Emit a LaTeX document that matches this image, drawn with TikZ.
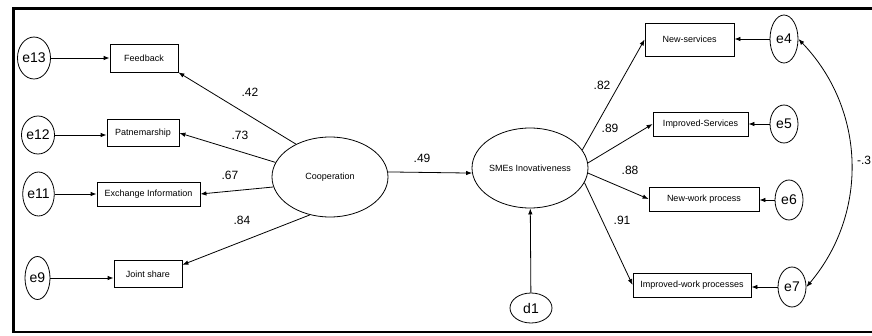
\documentclass[tikz,border=0pt]{standalone}
\usepackage{fontspec}
\setmainfont{Liberation Sans}
\usetikzlibrary{shapes.geometric}
\usetikzlibrary{arrows.meta}

\begin{document}
\begin{tikzpicture}[x=1pt,y=-1pt,line width=0.8pt,>={Latex[length=6pt,width=4.5pt]},
   obs/.style={draw,rectangle,inner sep=0pt,font=\fontsize{9}{10}\selectfont},
   lat/.style={draw,ellipse,inner sep=0pt,minimum width=116pt,minimum height=80pt,font=\fontsize{9}{10}\selectfont},
   err/.style={draw,ellipse,inner sep=0pt,font=\fontsize{14}{14}\selectfont},
   lbl/.style={inner sep=0pt,font=\fontsize{12}{12}\selectfont}]
   \useasboundingbox (0,0) rectangle (872,335);
   \draw[line width=2.2pt] (880,8.5) -- (13.5,8.5) -- (13.5,332) -- (880,332);
   % latent variables
   \node[lat] (coop) at (330,177) {Cooperation};
   \node[lat] (smes) at (530,168) {SMEs Inovativeness};
   \node[err,minimum width=42pt,minimum height=30pt] (d1) at (531,308) {d1};
   % indicators of cooperation
   \node[obs,minimum width=68pt,minimum height=28pt] (fb) at (144,58) {Feedback};
   \node[obs,minimum width=72pt,minimum height=27pt] (pm) at (143,133) {Patnemarship};
   \node[obs,minimum width=103pt,minimum height=24pt] (ex) at (148.5,194) {Exchange Information};
   \node[obs,minimum width=68pt,minimum height=27pt] (js) at (148,274) {Joint share};
   \node[err,minimum width=32pt,minimum height=42pt] (e13) at (34,58) {e13};
   \node[err,minimum width=24pt,minimum height=38pt] (e12) at (38,135) {e12};
   \node[err,minimum width=27pt,minimum height=44pt] (e11) at (38.5,194) {e11};
   \node[err,minimum width=25pt,minimum height=43pt] (e9) at (37.5,278) {e9};
   % indicators of innovativeness
   \node[obs,minimum width=89pt,minimum height=33pt] (ns) at (689.5,39.5) {New-services};
   \node[obs,minimum width=95pt,minimum height=24pt] (is) at (700.5,124) {Improved-Services};
   \node[obs,minimum width=110pt,minimum height=24pt] (nw) at (704,199) {New-work process};
   \node[obs,minimum width=118pt,minimum height=24pt] (iw) at (692,285) {Improved-work processes};
   \node[err,minimum width=28pt,minimum height=48pt] (e4) at (784,39) {e4};
   \node[err,minimum width=28pt,minimum height=38pt] (e5) at (784,124) {e5};
   \node[err,minimum width=28pt,minimum height=40pt] (e6) at (789,200) {e6};
   \node[err,minimum width=28pt,minimum height=40pt] (e7) at (792,287) {e7};
   % loadings
   \node[lbl] (l42) at (250,92) {.42};
   \node[lbl] (l73) at (240,135) {.73};
   \node[lbl] (l67) at (230,175) {.67};
   \node[lbl] (l84) at (242,220) {.84};
   \node[lbl] (l49) at (422,158) {.49};
   \node[lbl] (l82) at (602,85) {.82};
   \node[lbl] (l89) at (610,128) {.89};
   \node[lbl] (l88) at (630,170) {.88};
   \node[lbl] (l91) at (622,220) {.91};
   \node[lbl,anchor=east] (l3) at (871.5,160) {-.3};
   % paths
   \draw[->] (coop.136) -- (fb.south east);
   \draw[->] (coop.165) -- (pm.east);
   \draw[->] (coop.190) -- (ex.east);
   \draw[->] (coop.242) -- (js.15);
   \draw[->] (coop.5) -- (smes.185);
   \draw[->] (d1) -- (smes);
   \draw[->] (smes.19) -- (ns.west);
   \draw[->] (smes.5) -- (is.west);
   \draw[->] (smes.-5) -- (nw.west);
   \draw[->] (smes.-15) -- (iw.west);
   \draw[->] (e13) -- (e13 -| fb.west);
   \draw[->] (e12) -- (e12 -| pm.west);
   \draw[->] (e11) -- (e11 -| ex.west);
   \draw[->] (e9) -- (e9 -| js.west);
   \draw[->] (e4) -- (e4 -| ns.east);
   \draw[->] (e5) -- (e5 -| is.east);
   \draw[->] (e6) -- (e6 -| nw.east);
   \draw[->] (e7) -- (e7 -| iw.east);
   \draw[<->] (e4.east) to[bend left=42] (e7.east);
\end{tikzpicture}
\end{document}
